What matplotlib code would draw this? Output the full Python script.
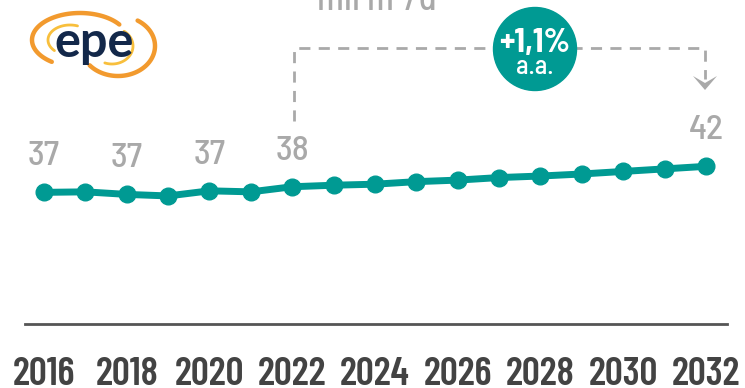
import matplotlib
matplotlib.use("Agg")
import numpy as np
import matplotlib.pyplot as plt
from matplotlib.patches import Circle, Polygon

# Consumo projetado (mil m3/d)
years = list(range(2016, 2033))
values = [37.0, 37.1, 36.6, 36.3, 37.3, 37.1, 38.1, 38.4, 38.6,
          39.1, 39.4, 39.9, 40.2, 40.6, 41.1, 41.6, 42.1]
labeled_years = [2016, 2018, 2020, 2022, 2032]
tick_years = list(range(2016, 2033, 2))
growth_text = "+1,1%"
growth_sub = "a.a."
unit_text = "mil m³/d"

TEAL = "#009a93"
GREY = "#a9a9a9"
DARK = "#434343"
COND = ["Barlow Condensed", "DejaVu Sans"]
SEMI = ["Barlow Semi Condensed", "DejaVu Sans"]

W, H = 745, 388
fig = plt.figure(figsize=(W / 100, H / 100), dpi=100)

ax = fig.add_axes([25 / W, 64 / H, 702 / W, 324 / H])
ax.plot(years, values, color=TEAL, lw=5, marker="o", ms=12,
        solid_capstyle="round", zorder=3)
ax.set_xlim(2015.54, 2032.51)
ax.set_ylim(11.2, 74.7)

for y, v in zip(years, values):
    if y in labeled_years:
        ax.annotate(f"{v:.0f}", (y, v), xytext=(0, 19.5), textcoords="offset points",
                    ha="center", va="baseline", fontsize=25.5, fontweight=500,
                    color=GREY, family=SEMI)

for side in ("top", "right", "left"):
    ax.spines[side].set_visible(False)
ax.spines["bottom"].set_color("#555555")
ax.spines["bottom"].set_linewidth(2)
ax.set_yticks([])
ax.set_xticks(tick_years)
ax.set_xticklabels([str(t) for t in tick_years], fontsize=28.5, fontweight=600,
                   color=DARK, family=COND)
ax.tick_params(axis="x", length=0, pad=23.5)

# overlay in pixel units for logo, unit label and growth callout
ov = fig.add_axes([0, 0, 1, 1], zorder=5)
ov.set_xlim(0, W)
ov.set_ylim(H, 0)
ov.axis("off")
ov.patch.set_alpha(0)

ov.text(377, 10, unit_text, ha="center", va="baseline", fontsize=26,
        fontweight=500, color=GREY, family=SEMI)


def swoosh(cx, cy, rx, ry, t0, t1, color, lw):
    t = np.radians(np.linspace(t0, t1, 80))
    ov.plot(cx + rx * np.cos(t), cy - ry * np.sin(t), color=color, lw=lw,
            solid_capstyle="round")


# logo
swoosh(80, 40, 48, 27, 35, 234, "#f29a2e", 3.2)
swoosh(118, 46, 37, 30, -140, 58, "#f29a2e", 3.2)
swoosh(70, 40, 22, 15, 70, 225, "#f8bf3c", 2)
swoosh(112, 46, 21, 18, -110, 55, "#f8bf3c", 2)
ov.text(94, 57, "epe", ha="center", va="baseline", fontsize=35, fontweight="bold",
        color="#13284a", family=["Lato", "DejaVu Sans"])

# growth bracket
xl, xr, ytop = 294, 705, 48
dash = dict(color=GREY, lw=2, linestyle=(0, (4, 3)))
ov.plot([xl, xl, xr, xr], [121, ytop, ytop, 79], **dash)
ov.add_patch(Polygon([[693, 76], [705, 83], [717, 76], [705, 90]], closed=True,
                     color=GREY, lw=0))
ov.add_patch(Circle((535, 49), 41.5, color=TEAL, zorder=6))
ov.text(535, 52, growth_text, ha="center", va="baseline", fontsize=24,
        fontweight="bold", color="white", family=SEMI, zorder=7)
ov.text(535, 74, growth_sub, ha="center", va="baseline", fontsize=19,
        fontweight=500, color="white", family=SEMI, zorder=7)

fig.savefig("out.png", dpi=100)
